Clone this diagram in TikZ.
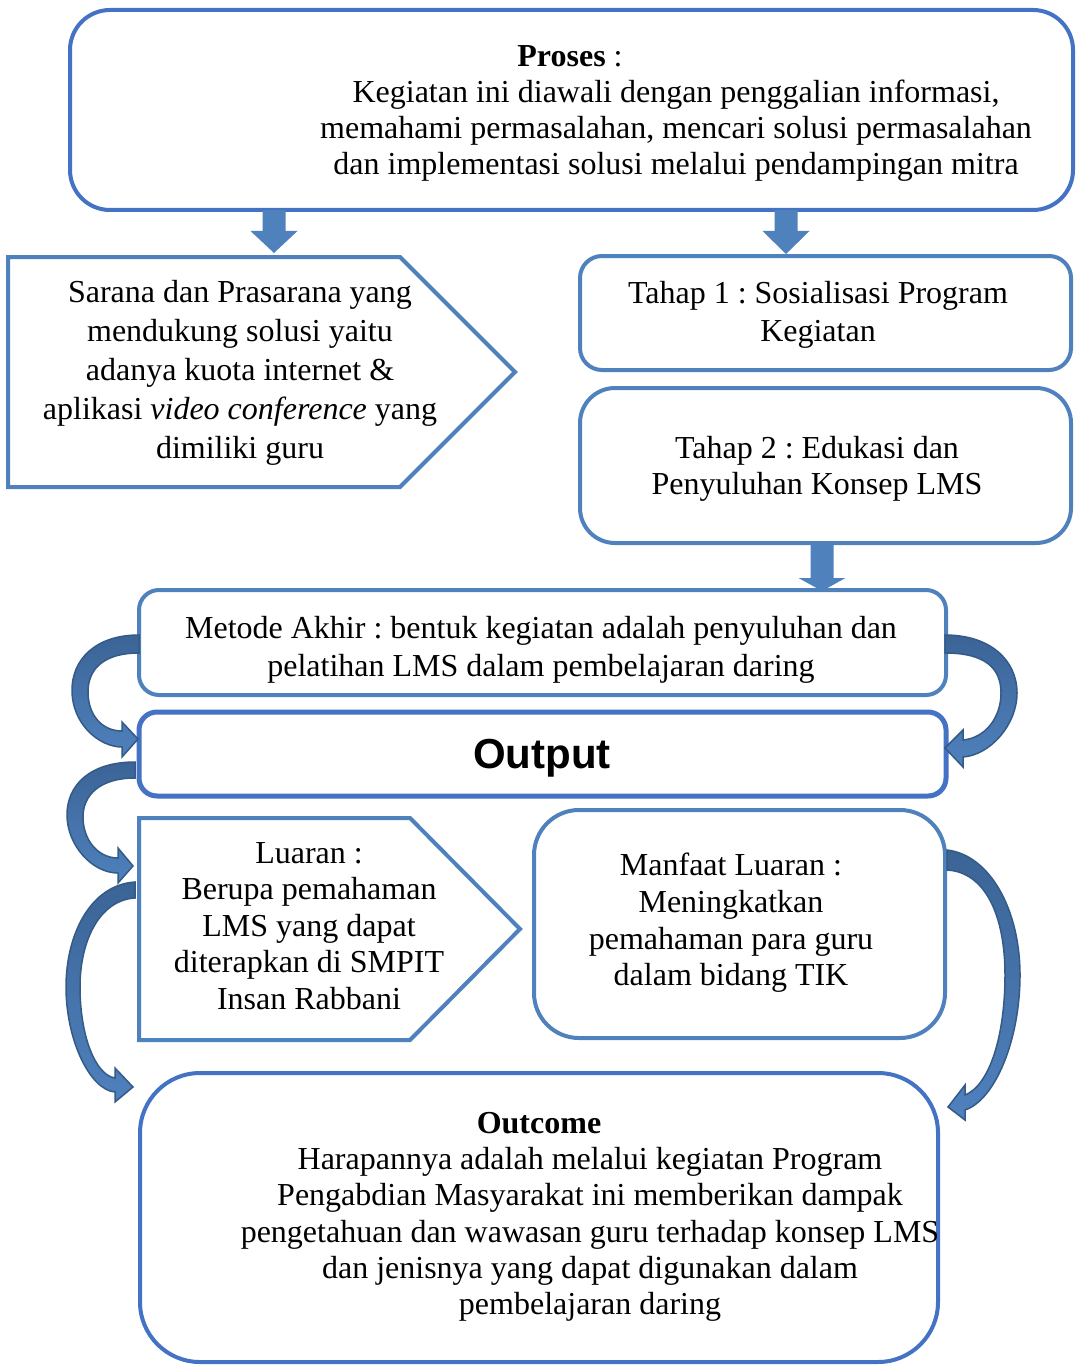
\documentclass[tikz,border=0pt]{standalone}
\usepackage{fontspec}
\setmainfont{Liberation Serif}
\newfontfamily\outfont{Liberation Sans}
\definecolor{bA}{HTML}{4F81BD}
\definecolor{bB}{HTML}{4472C4}
\definecolor{dk}{HTML}{345A87}
\definecolor{sh}{HTML}{3B6496}
\tikzset{
 box/.style={draw=bA, line width=4pt, fill=white, inner sep=0pt},
 boxB/.style={box, draw=bB},
 txt/.style={align=center, inner sep=0pt, font=\fontsize{32}{38}\selectfont},
 carr/.style={draw=dk, line width=1.5pt, top color=sh, bottom color=bA},
 darr/.style={fill=bA, draw=none},
}
\newcommand\dnarrow[4]{\fill[darr] (#1-11.5,#2) -- (#1+11.5,#2) -- (#1+11.5,#3) -- (#1+23.5,#3) -- (#1,#4) -- (#1-23.5,#3) -- (#1-11.5,#3) -- cycle;}
\begin{document}
\frenchspacing
\begin{tikzpicture}[x=1pt,y=-1pt]
\useasboundingbox (0,0) rectangle (1080,1372);
% Proses
\node[boxB, rounded corners=40pt, minimum width=1003pt, minimum height=200pt] (proses) at (571.5,110) {};
\node[txt] (prosest) at (570,56) {\textbf{Proses} :};
\node[txt, font=\fontsize{32}{36}\selectfont] (prosesb) at (676,131) {Kegiatan ini diawali dengan penggalian informasi,\\memahami permasalahan, mencari solusi permasalahan\\dan implementasi solusi melalui pendampingan mitra};
% down arrows
\dnarrow{274}{210}{231}{253}
\dnarrow{786}{210}{231}{254}
% Sarana
\draw[box] (8,257) -- (400,257) -- (515,372) -- (400,487) -- (8,487) -- cycle;
\node[txt, font=\fontsize{32}{39}\selectfont] (sarana) at (240,373) {Sarana dan Prasarana yang\\mendukung solusi yaitu\\adanya kuota internet \&\\aplikasi \textit{video conference} yang\\dimiliki guru};
% Tahap 1, 2
\node[box, rounded corners=22pt, minimum width=491pt, minimum height=114pt] (tahap1) at (825.5,313) {};
\node[txt] (tahap1t) at (818,315) {Tahap 1 : Sosialisasi Program\\Kegiatan};
\node[box, rounded corners=35pt, minimum width=491pt, minimum height=155pt] (tahap2) at (825.5,465.5) {};
\node[txt, font=\fontsize{32}{36}\selectfont] (tahap2t) at (817,469) {Tahap 2 : Edukasi dan\\Penyuluhan Konsep LMS};
\dnarrow{822}{545}{578}{591}
% Metode
\node[box, rounded corners=20pt, minimum width=807pt, minimum height=105pt] (metode) at (542.5,642.5) {};
\node[txt] (metodet) at (541,650) {Metode Akhir : bentuk kegiatan adalah penyuluhan dan\\pelatihan LMS dalam pembelajaran daring};
% Output
\node[boxB, line width=5pt, rounded corners=18pt, minimum width=807pt, minimum height=84pt] (output) at (542.5,754) {};
\node[inner sep=0pt, font=\outfont\bfseries\fontsize{42}{48}\selectfont] (outputt) at (542,758) {Output};
% Luaran
\draw[box] (139,818) -- (410,818) -- (520,929) -- (410,1040) -- (139,1040) -- cycle;
\node[txt, font=\fontsize{32}{36.6}\selectfont] (luaran) at (309,926) {Luaran :\\Berupa pemahaman\\LMS yang dapat\\diterapkan di SMPIT\\Insan Rabbani};
% Manfaat
\node[box, rounded corners=45pt, minimum width=411pt, minimum height=228pt] (manfaat) at (739.5,924) {};
\node[txt, font=\fontsize{32}{36.7}\selectfont] (manfaatt) at (731,923) {Manfaat Luaran :\\Meningkatkan\\pemahaman para guru\\dalam bidang TIK};
% Outcome
\node[boxB, rounded corners=60pt, minimum width=798pt, minimum height=289pt] (outcome) at (539,1217.5) {};
\node[txt] (outcomet) at (539,1123) {\textbf{Outcome}};
\node[txt, font=\fontsize{32}{36.3}\selectfont] (outcomeb) at (590,1234.5) {Harapannya adalah melalui kegiatan Program\\Pengabdian Masyarakat ini memberikan dampak\\pengetahuan dan wawasan guru terhadap konsep LMS\\dan jenisnya yang dapat digunakan dalam\\pembelajaran daring};
% curved arrows left
\draw[carr] (139,635) .. controls (95,635) and (72,660) .. (72,690) .. controls (72,725) and (100,747) .. (122,747) -- (122,757) -- (138,739) -- (122,722) -- (122,731) .. controls (102,731) and (88,715) .. (88,692) .. controls (88,668) and (105,653) .. (139,653) -- cycle;
\draw[carr] (135,762) .. controls (90,762) and (67,785) .. (67,815) .. controls (67,845) and (92,873) .. (118,873) -- (118,883) -- (133,866) -- (118,848) -- (118,858) .. controls (98,858) and (83,840) .. (83,817) .. controls (83,795) and (100,778) .. (135,778) -- cycle;
\draw[carr] (135,882) .. controls (90,885) and (66,935) .. (66,987) .. controls (66,1040) and (90,1090) .. (115,1092) -- (115,1102) -- (133,1087) -- (115,1068) -- (115,1078) .. controls (95,1075) and (80,1035) .. (80,987) .. controls (80,940) and (100,900) .. (135,898) -- cycle;
% curved arrows right
\draw[carr] (945,635) .. controls (990,635) and (1017,660) .. (1017,693) .. controls (1017,725) and (990,755) .. (963,757) -- (963,767) -- (945,748) -- (963,730) -- (963,740) .. controls (985,738) and (1001,718) .. (1001,693) .. controls (1001,668) and (985,653) .. (945,653) -- cycle;
\draw[carr] (947,850) .. controls (990,855) and (1020,910) .. (1020,975) .. controls (1020,1040) and (995,1100) .. (965,1110) -- (965,1120) -- (948,1107) -- (965,1085) -- (965,1095) .. controls (990,1085) and (1005,1035) .. (1005,975) .. controls (1005,915) and (985,872) .. (947,870) -- cycle;
\end{tikzpicture}
\end{document}
